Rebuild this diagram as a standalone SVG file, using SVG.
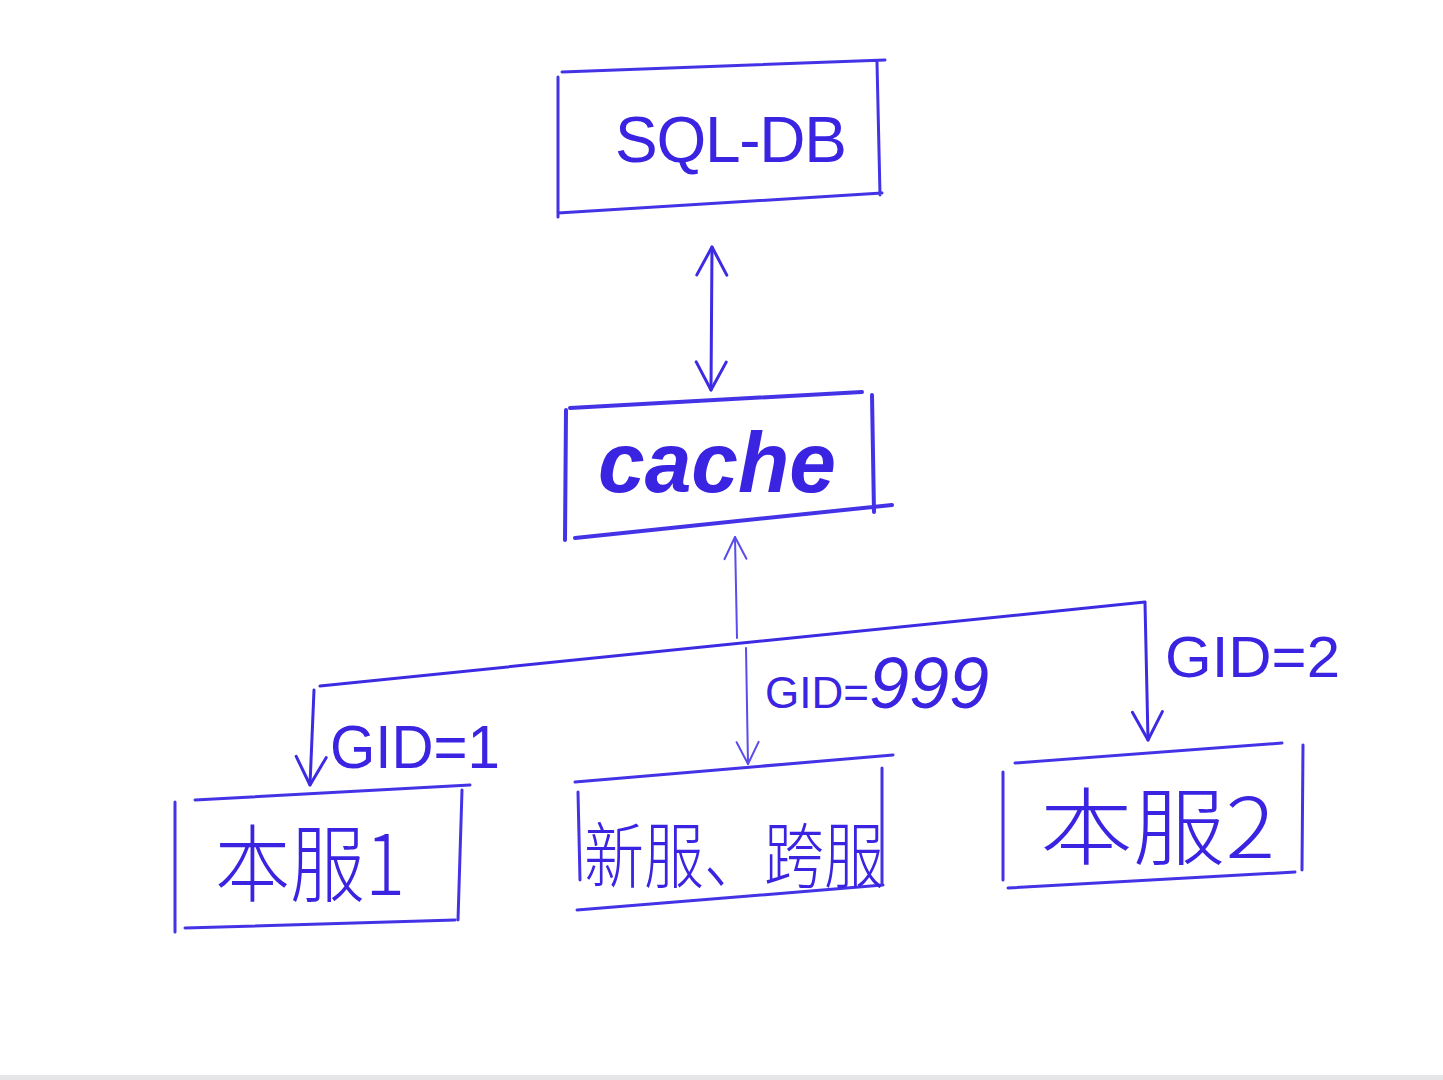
<svg xmlns="http://www.w3.org/2000/svg" width="1443" height="1080" viewBox="0 0 1443 1080">
<style>
.box{fill:none;stroke:#4433e6;stroke-width:3;stroke-linecap:round;stroke-linejoin:round}
.thin{fill:none;stroke:#5a4cec;stroke-width:2;stroke-linecap:round}
.con{fill:none;stroke:#3d2be4;stroke-width:3;stroke-linecap:round}
.lbl{fill:#3a24e2;font-family:"Liberation Sans","Noto Sans CJK SC",sans-serif}
.cjk{fill:#3a24e2;font-family:"Noto Sans CJK SC",sans-serif;font-weight:300}
</style>
<defs>
<marker id="ah" viewBox="-2 -18 34 36" refX="28" refY="0" markerWidth="34" markerHeight="36" markerUnits="userSpaceOnUse" orient="auto-start-reverse">
<path d="M0,-15 L28,0 L0,15" fill="none" stroke="#3d2be4" stroke-width="3" stroke-linecap="round" stroke-linejoin="round"/>
</marker>
<marker id="ahs" viewBox="-2 -14 28 28" refX="22" refY="0" markerWidth="28" markerHeight="28" markerUnits="userSpaceOnUse" orient="auto-start-reverse">
<path d="M0,-11 L22,0 L0,11" fill="none" stroke="#5a4cec" stroke-width="2" stroke-linecap="round" stroke-linejoin="round"/>
</marker>
</defs>
<rect x="0" y="0" width="1443" height="1080" fill="#ffffff"/>
<rect x="0" y="1075" width="1443" height="5" fill="#e6e6e8"/>

<g id="sqldb">
<path class="box" d="M562,72 L885,60 M877,62 L880,195 M558,213 L882,193 M558,77 L558,217"/>
<text class="lbl" x="615" y="162" font-size="64" textLength="232" lengthAdjust="spacing">SQL-DB</text>
</g>

<g id="cache">
<path class="box" d="M570,408 L862,392 M872,395 L874,512 M575,538 L892,505 M566,410 L565,540" style="stroke-width:4"/>
<text class="lbl" x="598" y="492" font-size="86" font-style="italic" font-weight="bold" textLength="238" lengthAdjust="spacingAndGlyphs">cache</text>
</g>

<g id="benfu1">
<path class="box" d="M195,800 L470,785 M462,790 L458,920 M185,928 L455,920 M175,802 L175,932"/>
<text class="cjk" x="215" y="895" font-size="84" textLength="190" lengthAdjust="spacingAndGlyphs">本服1</text>
</g>

<g id="xinfu">
<path class="box" d="M575,782 L893,755 M882,768 L882,885 M577,910 L883,885 M578,792 L580,880"/>
<text class="cjk" x="584" y="882" font-size="72" textLength="300" lengthAdjust="spacingAndGlyphs">新服、跨服</text>
</g>

<g id="benfu2">
<path class="box" d="M1015,763 L1282,743 M1303,745 L1302,870 M1008,888 L1295,872 M1003,772 L1003,880"/>
<text class="cjk" x="1040" y="858" font-size="84" textLength="235" lengthAdjust="spacingAndGlyphs">本服2</text>
</g>

<g id="connectors">
<path class="con" d="M711,390 L712,247" marker-start="url(#ah)" marker-end="url(#ah)"/>
<path class="thin" d="M737,638 L735,537" marker-end="url(#ahs)"/>
<path class="thin" d="M746,648 L748,764" marker-end="url(#ahs)"/>
<path class="con" d="M320,686 L1145,602"/>
<path class="con" d="M314,690 L310,785" marker-end="url(#ah)"/>
<path class="con" d="M1145,603 L1148,740" marker-end="url(#ah)"/>
</g>

<g id="labels">
<text class="lbl" x="330" y="768" font-size="62" textLength="170" lengthAdjust="spacingAndGlyphs">GID=1</text>
<text class="lbl" x="765" y="708"><tspan font-size="44">GID=</tspan><tspan font-size="72" font-style="italic">999</tspan></text>
<text class="lbl" x="1165" y="677" font-size="58" textLength="175" lengthAdjust="spacingAndGlyphs">GID=2</text>
</g>
</svg>
